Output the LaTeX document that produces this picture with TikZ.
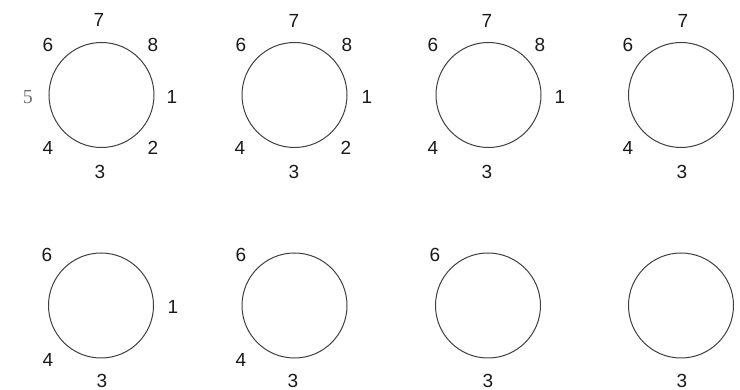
\documentclass[tikz,border=0pt]{standalone}
\usepackage{fontspec}
\setmainfont{Liberation Sans}
\newfontfamily\serifdigit{Liberation Serif}
\begin{document}
\begin{tikzpicture}[x=1pt,y=-1pt,
  ring/.style={draw=black!75,line width=1pt,circle,minimum size=105pt,inner sep=0pt},
  lbl/.style={text=black!90,font=\fontsize{19}{19}\selectfont,inner sep=0pt},
  lblgray/.style={text=black!55,font=\serifdigit\fontsize{20}{20}\selectfont,inner sep=0pt}]
\useasboundingbox (0,0) rectangle (740,390);
% top row
\node[ring] (c1) at (101.5,95) {};
\node[lbl] (c1n7) at (99,20) {7};
\node[lbl] (c1n6) at (48,45) {6};
\node[lbl] (c1n8) at (153,45) {8};
\node[lblgray] (c1n5) at (28,97) {5};
\node[lbl] (c1n1) at (172,97) {1};
\node[lbl] (c1n4) at (48,148) {4};
\node[lbl] (c1n2) at (153,148) {2};
\node[lbl] (c1n3) at (100,172) {3};

\node[ring] (c2) at (294.5,95) {};
\node[lbl] (c2n7) at (294,21) {7};
\node[lbl] (c2n6) at (241,45) {6};
\node[lbl] (c2n8) at (347,45) {8};
\node[lbl] (c2n1) at (367,97) {1};
\node[lbl] (c2n4) at (240,148) {4};
\node[lbl] (c2n2) at (346,148) {2};
\node[lbl] (c2n3) at (294,172) {3};

\node[ring] (c3) at (488.5,95) {};
\node[lbl] (c3n7) at (487,21) {7};
\node[lbl] (c3n6) at (433,45) {6};
\node[lbl] (c3n8) at (540,45) {8};
\node[lbl] (c3n1) at (560,97) {1};
\node[lbl] (c3n4) at (433,148) {4};
\node[lbl] (c3n3) at (487,172) {3};

\node[ring] (c4) at (681,95) {};
\node[lbl] (c4n7) at (683,21) {7};
\node[lbl] (c4n6) at (628,45) {6};
\node[lbl] (c4n4) at (628,148) {4};
\node[lbl] (c4n3) at (682,172) {3};

% bottom row
\node[ring] (d1) at (101,305.5) {};
\node[lbl] (d1n6) at (47,255) {6};
\node[lbl] (d1n1) at (173,307) {1};
\node[lbl] (d1n4) at (48,360) {4};
\node[lbl] (d1n3) at (102,380.5) {3};

\node[ring] (d2) at (294.5,305.5) {};
\node[lbl] (d2n6) at (241,255) {6};
\node[lbl] (d2n4) at (241,360) {4};
\node[lbl] (d2n3) at (293,380.5) {3};

\node[ring] (d3) at (488,305.5) {};
\node[lbl] (d3n6) at (435,255) {6};
\node[lbl] (d3n3) at (488,380.5) {3};

\node[ring] (d4) at (681,305.5) {};
\node[lbl] (d4n3) at (682,380.5) {3};
\end{tikzpicture}
\end{document}
